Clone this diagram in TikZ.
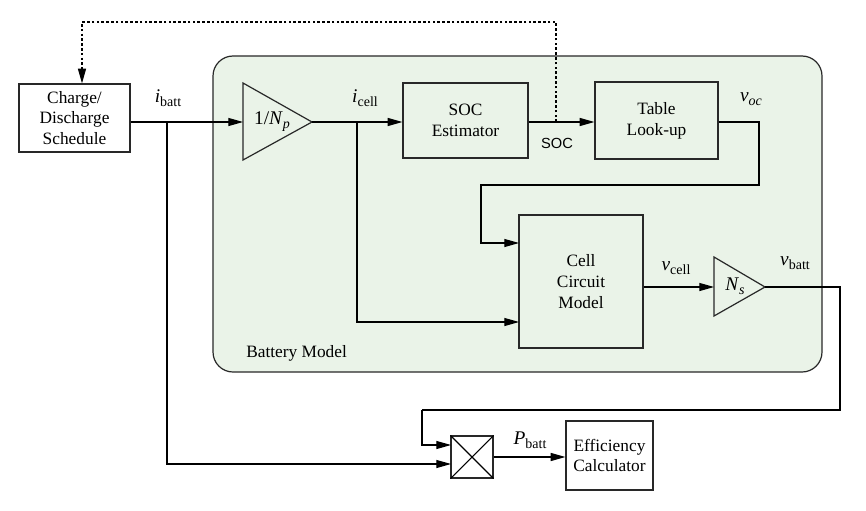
\documentclass[tikz,border=0pt]{standalone}
\usepackage{fontspec}
\setmainfont{Liberation Serif}
\newfontfamily\labsans{Liberation Sans}
\usetikzlibrary{arrows.meta}
\definecolor{bmfill}{RGB}{234,243,232}
\definecolor{edge}{RGB}{40,40,40}
\newcommand\lsub[1]{\raisebox{-0.45ex}{\fontsize{10.5}{12}\selectfont #1}}
\begin{document}
\begin{tikzpicture}[x=0.75pt,y=-0.75pt,
  every node/.style={font=\fontsize{13}{15.5}\selectfont},
  blockbox/.style={draw=edge,line width=0.9pt,align=center,inner sep=0pt},
  wire/.style={line width=0.8pt,draw=black},
  arr/.style={wire,-{Triangle[length=11pt,width=6pt]}},
  lab/.style={inner sep=0pt,font=\fontsize{14.5}{17}\selectfont}]
\useasboundingbox (0,0) rectangle (866,510);
% battery model region
\node[draw=edge,line width=0.9pt,fill=bmfill,rounded corners=15pt,minimum width={609*0.75pt},minimum height={316*0.75pt},inner sep=0pt] (bm) at (517.5,214) {};
\node[inner sep=0pt,anchor=base west] (bmlab) at (246,357) {Battery Model};
% blocks
\node[blockbox,minimum width={111*0.75pt},minimum height={68*0.75pt}] (charge) at (74.5,118) {Charge/\\Discharge\\Schedule};
\node[blockbox,minimum width={125*0.75pt},minimum height={75*0.75pt},fill=bmfill] (soc) at (465.5,120.5) {SOC\\Estimator};
\node[blockbox,minimum width={123*0.75pt},minimum height={77*0.75pt},fill=bmfill] (table) at (656.5,120.5) {Table\\Look-up};
\node[blockbox,minimum width={124*0.75pt},minimum height={133*0.75pt},fill=bmfill] (cell) at (581,281.5) {Cell\\Circuit\\Model};
\node[blockbox,minimum width={42*0.75pt},minimum height={42*0.75pt},fill=white] (mult) at (472,457) {};
\draw[line width=0.8pt] (mult.north west) -- (mult.south east) (mult.north east) -- (mult.south west);
\node[blockbox,minimum width={87*0.75pt},minimum height={69*0.75pt}] (eff) at (609.5,455.5) {Efficiency\\Calculator};
% gain triangles
\draw[draw=edge,line width=0.9pt] (243,83) -- (312,122) -- (243,160) -- cycle;
\node[lab] (np) at (272,122) {1/\textit{N}\lsub{\textit{p}}};
\coordinate (npin) at (243,122);
\coordinate (npout) at (312,122);
\draw[draw=edge,line width=0.9pt] (714,257) -- (765,287) -- (714,316) -- cycle;
\node[lab] (ns) at (735,286) {\textit{N}\lsub{\textit{s}}};
\coordinate (nsin) at (714,287);
\coordinate (nsout) at (765,287);
% junctions and bends
\coordinate (jb) at (167,122);
\coordinate (jc) at (357,122);
\coordinate (jsoc) at (556,122);
\coordinate (top) at (556,22);
\coordinate (topl) at (82,22);
\coordinate (voc1) at (759,122);
\coordinate (voc2) at (759,185);
\coordinate (voc3) at (481,185);
\coordinate (cellin1) at (519,243);
\coordinate (cellin2) at (519,322);
\coordinate (vb1) at (840,287);
\coordinate (vb2) at (840,410);
\coordinate (vb3) at (422,410);
\coordinate (mulin1) at (451,445);
\coordinate (mulin2) at (451,464);
% connectors
\draw[arr] (charge.east |- npin) -- (npin);
\draw[arr] (jb) |- (mulin2);
\draw[arr] (npout) -- (soc.west |- npout);
\draw[arr] (jc) |- (cellin2);
\draw[arr] (soc.east |- jsoc) -- (table.west |- jsoc);
\draw[arr,dash pattern=on 2pt off 1.6pt] (jsoc) -- (top) -- (topl) -- (charge.north -| topl);
\draw[arr] (table.east |- voc1) -- (voc1) -- (voc2) -- (voc3) |- (cellin1);
\draw[arr] (cell.east |- nsin) -- (nsin);
\draw[wire] (nsout) -- (vb1) -- (vb2) -- (vb3);
\draw[arr] (vb3) |- (mulin1);
\draw[arr] (mult.east) -- (eff.west |- mult.east);
% labels
\node[lab] (libatt) at (168,98) {\textit{i}\lsub{batt}};
\node[lab] (licell) at (365,98) {\textit{i}\lsub{cell}};
\node[inner sep=0pt] (lsoc) at (557,143) {\labsans\fontsize{11}{13}\selectfont SOC};
\node[lab] (lvoc) at (751,99) {\textit{v}\lsub{\textit{oc}}};
\node[lab] (lvcell) at (676,268) {\textit{v}\lsub{cell}};
\node[lab] (lvbatt) at (795,263) {\textit{v}\lsub{batt}};
\node[lab] (lpbatt) at (530,440) {\textit{P}\lsub{batt}};
\end{tikzpicture}
\end{document}
